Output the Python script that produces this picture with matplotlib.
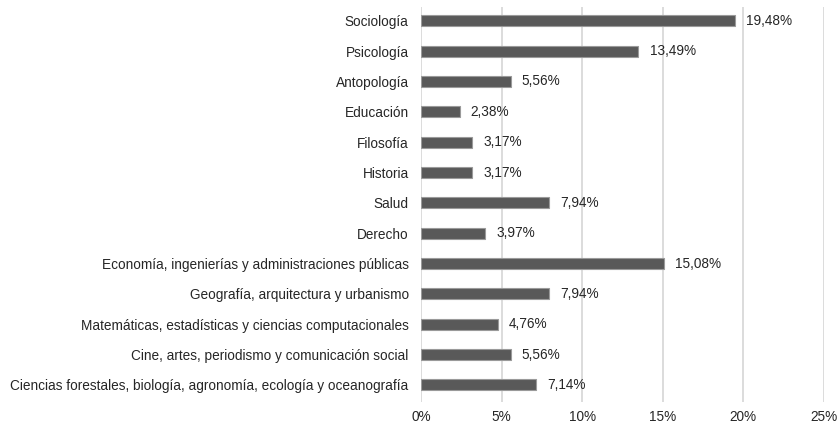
import matplotlib
matplotlib.use("Agg")
import matplotlib.pyplot as plt
from matplotlib.ticker import FuncFormatter

categories = [
    "Sociología",
    "Psicología",
    "Antopología",
    "Educación",
    "Filosofía",
    "Historia",
    "Salud",
    "Derecho",
    "Economía, ingenierías y administraciones públicas",
    "Geografía, arquitectura y urbanismo",
    "Matemáticas, estadísticas y ciencias computacionales",
    "Cine, artes, periodismo y comunicación social",
    "Ciencias forestales, biología, agronomía, ecología y oceanografía",
]
values = [19.48, 13.49, 5.56, 2.38, 3.17, 3.17, 7.94, 3.97, 15.08, 7.94, 4.76, 5.56, 7.14]
xticks = [0, 5, 10, 15, 20, 25]

plt.rcParams['font.family'] = ['Liberation Sans', 'DejaVu Sans']
text_color = '#262626'

fig = plt.figure(figsize=(8.39, 4.28), dpi=100)
ax = fig.add_axes([0.502, 0.061, 0.480, 0.923])

pos = list(range(len(categories)))
ax.barh(pos, values, height=0.36, color='#595959', edgecolor='#9a9a9a', linewidth=0.8, zorder=3)

for p, v in zip(pos, values):
    ax.annotate(f"{v:.2f}".replace('.', ',') + "%", xy=(v, p), xytext=(8, 0),
                textcoords='offset points', va='center', ha='left',
                fontsize=9.8, color=text_color)

ax.set_xlim(0, 25)
ax.set_ylim(len(categories) - 1 + 0.56, -0.46)
ax.set_xticks(xticks)
ax.xaxis.set_major_formatter(FuncFormatter(lambda x, _: f"{int(x)}%"))
ax.set_yticks(pos)
ax.set_yticklabels(categories)
ax.tick_params(axis='both', length=0, colors=text_color, labelsize=9.8)
ax.tick_params(axis='y', pad=9)
ax.tick_params(axis='x', pad=6)
for s in ax.spines.values():
    s.set_visible(False)
ax.grid(axis='x', color='#d9d9d9', linewidth=1.3, zorder=0)
ax.set_axisbelow(True)

fig.savefig("out.png", dpi=100)
